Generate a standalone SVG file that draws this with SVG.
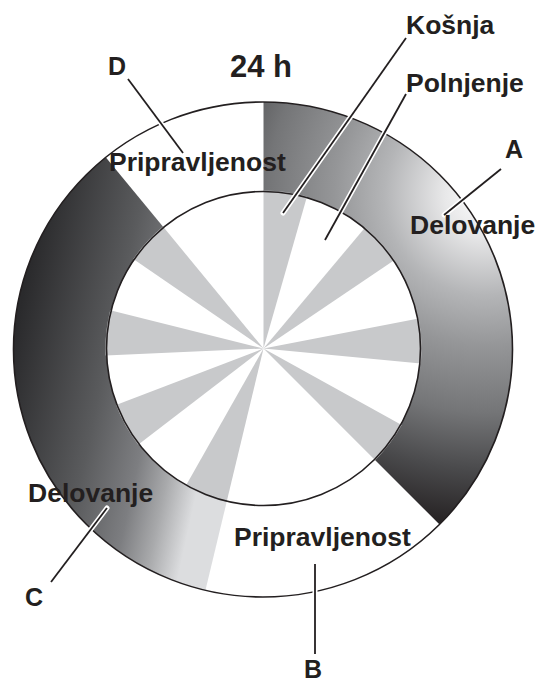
<svg xmlns="http://www.w3.org/2000/svg" width="541" height="683" viewBox="0 0 541 683">
<style>
text{font-family:"Liberation Sans",Arial,sans-serif;font-weight:bold;fill:#231f20}
.lbl{font-size:26.5px}
.ltr{font-size:25px}
.spoke{fill:#c8c9cb}
.rim{fill:none;stroke:#231f20;stroke-width:1.6}
.halo{stroke:#fff;stroke-width:5;fill:none;stroke-linecap:round}
.ln{stroke:#231f20;stroke-width:1.8;fill:none}
</style>
<defs>
<radialGradient id="gA" gradientUnits="userSpaceOnUse" cx="485" cy="195" r="335">
<stop offset="0" stop-color="#ffffff"/>
<stop offset="0.12" stop-color="#e8e8e9"/>
<stop offset="0.3" stop-color="#b4b5b7"/>
<stop offset="0.45" stop-color="#959698"/>
<stop offset="0.65" stop-color="#747577"/>
<stop offset="0.82" stop-color="#4a4a4c"/>
<stop offset="1" stop-color="#231f20"/>
</radialGradient>
<linearGradient id="gC" gradientUnits="userSpaceOnUse" x1="13" y1="340" x2="220" y2="385">
<stop offset="0" stop-color="#2a2a2c"/>
<stop offset="0.45" stop-color="#5a5b5d"/>
<stop offset="0.7" stop-color="#7d7e81"/>
<stop offset="0.85" stop-color="#a8a9ab"/>
<stop offset="1" stop-color="#dcdddf"/>
</linearGradient>
<clipPath id="outerClip"><ellipse cx="263" cy="349.5" rx="249.5" ry="247.5"/></clipPath>
</defs>

<g id="ring">
<ellipse cx="263" cy="349.5" rx="249.5" ry="247.5" fill="#fff"/>
<g clip-path="url(#outerClip)">
<path id="segA" d="M263.5 348.5 L263.5 88.5 A260 260 0 0 1 447.3 532.3 Z" fill="url(#gA)"/>
<path id="segC" d="M263.5 348.5 L202.8 601.3 A260 260 0 0 1 98.1 147.9 Z" fill="url(#gC)"/>
</g>
<circle cx="263.5" cy="348.5" r="157" fill="#fff"/>
</g>

<g id="spokes">
<path class="spoke" d="M263.5 348.5 L263.5 190.5 A158 158 0 0 1 307 196.6 Z"/>
<path class="spoke" d="M263.5 348.5 L365.1 227.5 A158 158 0 0 1 394.5 260.1 Z"/>
<path class="spoke" d="M263.5 348.5 L418.6 318.4 A158 158 0 0 1 420.8 363.6 Z"/>
<path class="spoke" d="M263.5 348.5 L401.7 425.1 A158 158 0 0 1 375.2 460.2 Z"/>
<path class="spoke" d="M263.5 348.5 L226.6 502.1 A158 158 0 0 1 185.7 486 Z"/>
<path class="spoke" d="M263.5 348.5 L138.1 444.7 A158 158 0 0 1 116 405.1 Z"/>
<path class="spoke" d="M263.5 348.5 L105.6 355.4 A158 158 0 0 1 110.2 310.3 Z"/>
<path class="spoke" d="M263.5 348.5 L133.3 259 A158 158 0 0 1 163 226.6 Z"/>
</g>

<g id="rims">
<ellipse class="rim" cx="263" cy="349.5" rx="249.5" ry="247.5"/>
<circle class="rim" cx="263.5" cy="348.5" r="157"/>
</g>

<g id="connectors">
<g id="lnD"><path class="halo" d="M128 79 L183 153"/><path class="ln" d="M128 79 L183 153"/></g>
<g id="lnKosnja"><path class="halo" d="M406 38 L283 213"/><path class="ln" d="M406 38 L283 213"/></g>
<g id="lnPolnjenje"><path class="halo" d="M406 94 L325 240"/><path class="ln" d="M406 94 L325 240"/></g>
<g id="lnA"><path class="halo" d="M501 169 L444 215"/><path class="ln" d="M501 169 L444 215"/></g>
<g id="lnC"><path class="halo" d="M51 582 L107 508"/><path class="ln" d="M51 582 L107 508"/></g>
<g id="lnB"><path class="halo" d="M315 564 L315 654"/><path class="ln" d="M315 564 L315 654"/></g>
</g>

<g id="title"><text x="230" y="77" style="font-size:31px">24 h</text></g>
<g id="nodeD"><text class="ltr" x="108" y="75">D</text><text class="lbl" x="109" y="171">Pripravljenost</text></g>
<g id="nodeA"><text class="ltr" x="505" y="158">A</text><text class="lbl" x="410" y="234">Delovanje</text></g>
<g id="nodeB"><text class="lbl" x="234" y="546">Pripravljenost</text><text class="ltr" x="304" y="678">B</text></g>
<g id="nodeC"><text class="lbl" x="28" y="502">Delovanje</text><text class="ltr" x="25" y="606">C</text></g>
<g id="nodeKosnja"><text class="lbl" x="406" y="34">Košnja</text></g>
<g id="nodePolnjenje"><text class="lbl" x="406" y="92">Polnjenje</text></g>
</svg>
